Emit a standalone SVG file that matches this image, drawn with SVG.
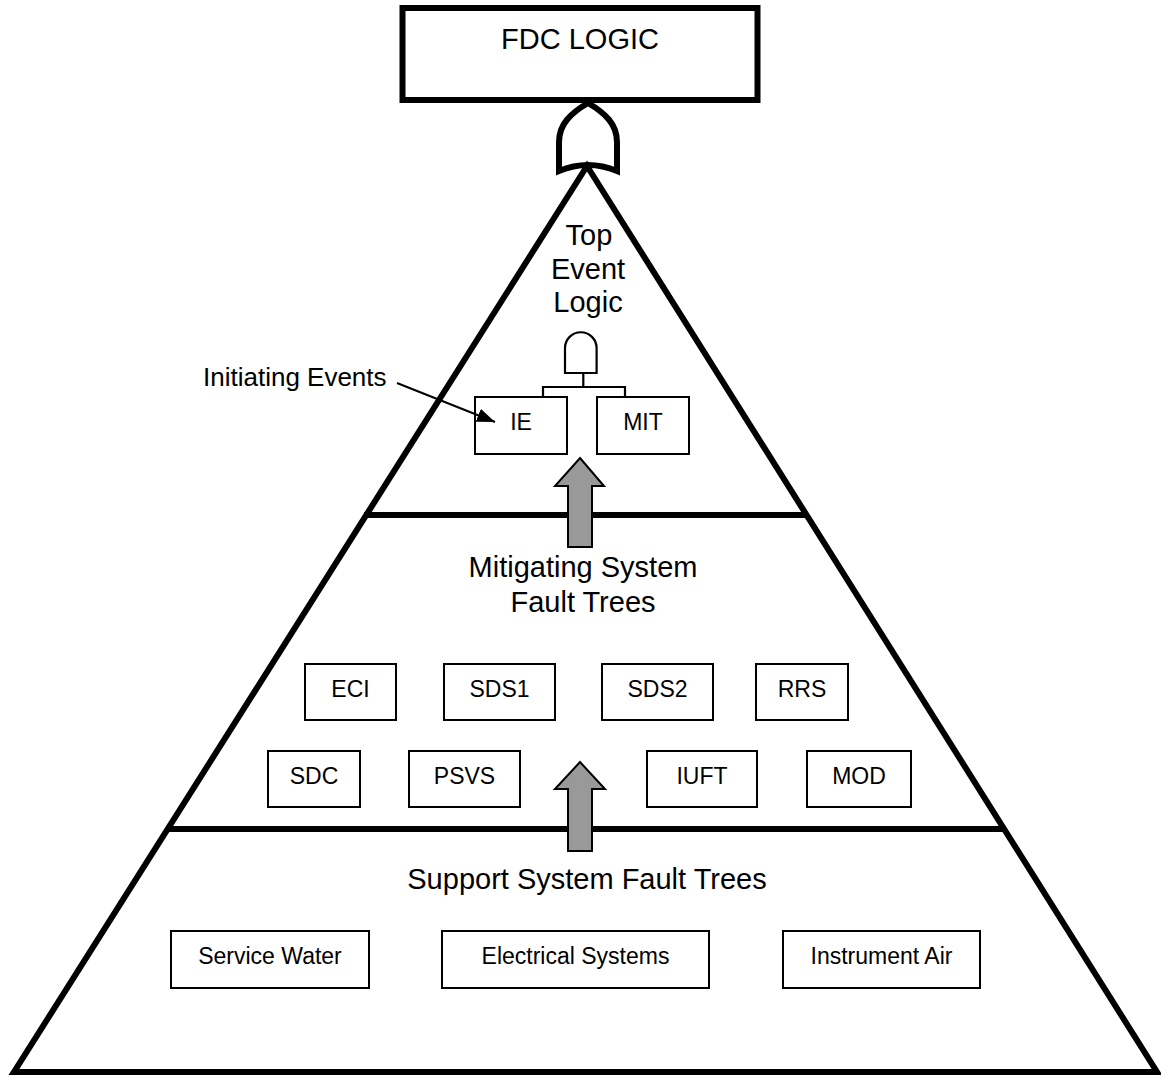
<svg xmlns="http://www.w3.org/2000/svg" width="1161" height="1076" viewBox="0 0 1161 1076">
  <style>
    text { font-family: "Liberation Sans", Arial, sans-serif; fill: #000; text-anchor: middle; }
    .big { font-size: 29px; }
    .lbl { font-size: 23px; }
    .box { fill: #fff; stroke: #000; stroke-width: 2; }
    .thick { fill: none; stroke: #000; stroke-width: 6; }
    .thin { fill: none; stroke: #000; stroke-width: 2.2; }
    .up { fill: #999; stroke: #000; stroke-width: 2; stroke-linejoin: miter; }
  </style>
  <defs>
    <marker id="tip" viewBox="0 0 18 14" refX="18" refY="7" markerWidth="18" markerHeight="14" markerUnits="userSpaceOnUse" orient="auto">
      <path d="M0,0 L18,7 L0,14 Z" fill="#000"/>
    </marker>
  </defs>
  <rect width="1161" height="1076" fill="#fff"/>

  <!-- pyramid outline and tier dividers -->
  <g id="pyramid">
    <polygon class="thick" points="587,166 14,1072 1157,1072" stroke-linejoin="miter"/>
    <line class="thick" x1="364" y1="515" x2="808" y2="515"/>
    <line class="thick" x1="168" y1="829" x2="1004" y2="829"/>
  </g>

  <!-- top box -->
  <g id="fdc-logic">
    <rect x="402.5" y="8" width="355" height="92" fill="#fff" stroke="#000" stroke-width="6"/>
    <text class="big" x="580" y="49">FDC LOGIC</text>
  </g>

  <!-- OR gate under the top box -->
  <g id="or-gate">
    <path class="thick" d="M588,103 C571,113 559,124 559,142 L559,171 Q588,159 617,171 L617,142 C617,124 605,113 588,103 Z" fill="#fff"/>
  </g>

  <!-- tier labels -->
  <g id="top-event-logic">
    <text class="big" x="589" y="245">Top</text>
    <text class="big" x="588" y="279">Event</text>
    <text class="big" x="588" y="312">Logic</text>
  </g>
  <g id="mitigating-label">
    <text class="big" x="583" y="577">Mitigating System</text>
    <text class="big" x="583" y="612">Fault Trees</text>
  </g>
  <g id="support-label">
    <text class="big" x="587" y="889">Support System Fault Trees</text>
  </g>

  <!-- AND gate -->
  <g id="and-gate">
    <path class="thin" d="M565,373 L565,348 A15.8,15.8 0 0 1 596.6,348 L596.6,373 Z" fill="#fff"/>
  </g>

  <!-- top tier events -->
  <g id="ie">
    <rect class="box" x="475" y="397" width="92" height="57"/>
    <text class="lbl" x="521" y="430">IE</text>
  </g>
  <g id="mit">
    <rect class="box" x="597" y="397" width="92" height="57"/>
    <text class="lbl" x="643" y="430">MIT</text>
  </g>

  <g id="initiating-events">
    <text x="203" y="386" font-size="26" style="text-anchor:start">Initiating Events</text>
  </g>

  <!-- mitigating system fault trees -->
  <g id="eci"><rect class="box" x="305" y="664" width="91" height="56"/><text class="lbl" x="350.5" y="697">ECI</text></g>
  <g id="sds1"><rect class="box" x="444" y="664" width="111" height="56"/><text class="lbl" x="499.5" y="697">SDS1</text></g>
  <g id="sds2"><rect class="box" x="602" y="664" width="111" height="56"/><text class="lbl" x="657.5" y="697">SDS2</text></g>
  <g id="rrs"><rect class="box" x="756" y="664" width="92" height="56"/><text class="lbl" x="802" y="697">RRS</text></g>
  <g id="sdc"><rect class="box" x="268" y="751" width="92" height="56"/><text class="lbl" x="314" y="784">SDC</text></g>
  <g id="psvs"><rect class="box" x="409" y="751" width="111" height="56"/><text class="lbl" x="464.5" y="784">PSVS</text></g>
  <g id="iuft"><rect class="box" x="647" y="751" width="110" height="56"/><text class="lbl" x="702" y="784">IUFT</text></g>
  <g id="mod"><rect class="box" x="807" y="751" width="104" height="56"/><text class="lbl" x="859" y="784">MOD</text></g>

  <!-- support system fault trees -->
  <g id="service-water"><rect class="box" x="171" y="931" width="198" height="57"/><text class="lbl" x="270" y="964">Service Water</text></g>
  <g id="electrical-systems"><rect class="box" x="442" y="931" width="267" height="57"/><text class="lbl" x="575.5" y="964">Electrical Systems</text></g>
  <g id="instrument-air"><rect class="box" x="783" y="931" width="197" height="57"/><text class="lbl" x="881.5" y="964">Instrument Air</text></g>

  <!-- connectors -->
  <g id="connectors">
    <path class="thin" d="M583.3,373 L583.3,387 M543,387 L625,387 M543,386 L543,397 M625,386 L625,397"/>
    <line x1="397" y1="383" x2="495" y2="422" stroke="#000" stroke-width="2" marker-end="url(#tip)"/>
    <path class="up" d="M580,458 L604,486 L592,486 L592,547 L568,547 L568,486 L555,486 Z"/>
    <path class="up" d="M580,762 L605,789 L592,789 L592,851 L568,851 L568,789 L555,789 Z"/>
  </g>
</svg>
